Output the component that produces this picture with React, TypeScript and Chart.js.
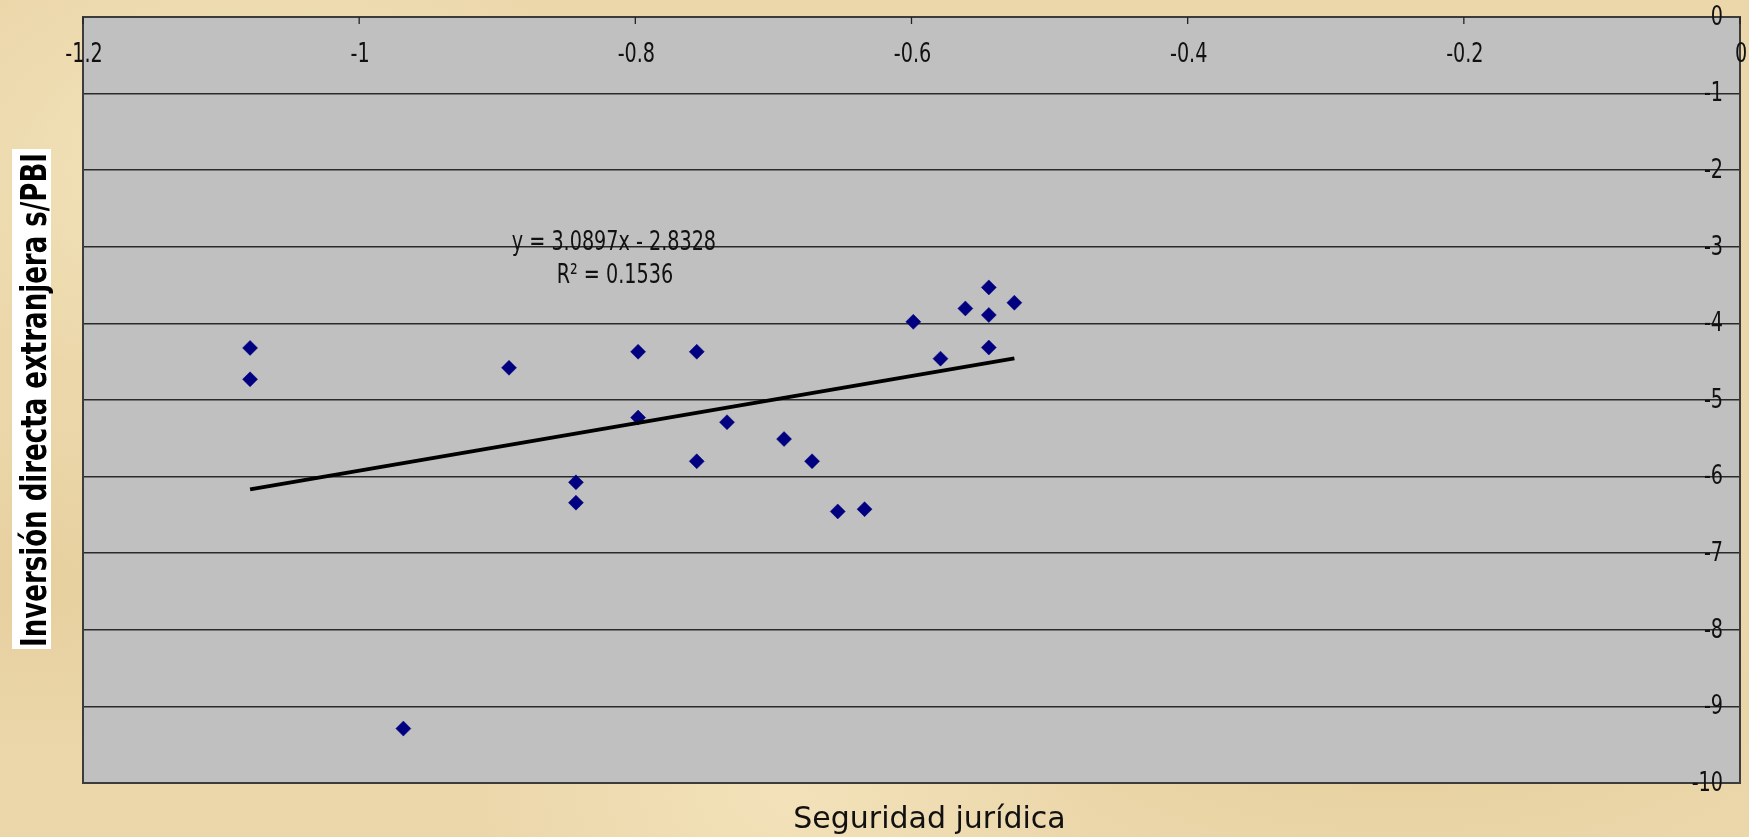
import React, { useEffect, useRef } from "react";
import { Chart, registerables } from "chart.js";

Chart.register(...registerables);

// ---- Data ----
const xValues = [
  -1.079, -1.079, -0.968, -0.8915, -0.843, -0.843, -0.798, -0.798, -0.7555, -0.7555, -0.7336,
  -0.6923, -0.672, -0.6534, -0.634, -0.5987, -0.579, -0.561, -0.544, -0.544, -0.544, -0.5255,
];
const yValues = [
  -4.32, -4.73, -9.29, -4.58, -6.075, -6.34, -4.37, -5.23, -4.37, -5.8, -5.29,
  -5.51, -5.8, -6.455, -6.425, -3.98, -4.46, -3.805, -3.53, -3.89, -4.315, -3.73,
];
const xTickValues = [-1.2, -1, -0.8, -0.6, -0.4, -0.2, 0];
const yTickValues = [0, -1, -2, -3, -4, -5, -6, -7, -8, -9, -10];
const trendSlope = 3.0897;
const trendIntercept = -2.8328;
const rSquared = 0.1536;
const xTitle = "Seguridad jurídica";
const yTitle = "Inversión directa extranjera s/PBI";

const TICK_FONT = "26px 'Liberation Sans Narrow', 'DejaVu Sans Condensed', Roboto, sans-serif";
const NARROW = 0.82;

const fmt = (v: number) => {
  const n = Math.round(v * 10) / 10;
  return (n === 0 ? 0 : n).toString();
};

function narrowText(ctx: CanvasRenderingContext2D, text: string, x: number, y: number) {
  ctx.save();
  ctx.translate(x, y);
  ctx.scale(NARROW, 1);
  ctx.fillText(text, 0, 0);
  ctx.restore();
}

const decorPlugin = {
  id: "decor",
  beforeDraw(chart: any) {
    const { ctx, chartArea: a } = chart;
    ctx.save();
    ctx.fillStyle = "#C0C0C0";
    ctx.fillRect(a.left, a.top, a.right - a.left, a.bottom - a.top);
    ctx.restore();
  },
  afterDraw(chart: any) {
    const { ctx, chartArea: a, scales } = chart;
    const xs = scales.x;
    const ys = scales.y;
    ctx.save();
    // plot border
    ctx.strokeStyle = "#3c3c3c";
    ctx.lineWidth = 2;
    ctx.strokeRect(a.left, a.top, a.right - a.left, a.bottom - a.top);
    // x tick marks (top, pointing inward)
    ctx.lineWidth = 1.3;
    ctx.strokeStyle = "#222";
    xs.ticks.forEach((t: any) => {
      const px = xs.getPixelForValue(t.value);
      ctx.beginPath();
      ctx.moveTo(px, a.top);
      ctx.lineTo(px, a.top + 7);
      ctx.stroke();
    });
    // tick labels
    ctx.fillStyle = "#111";
    ctx.font = TICK_FONT;
    ctx.textBaseline = "middle";
    ctx.textAlign = "center";
    xs.ticks.forEach((t: any) => {
      narrowText(ctx, fmt(t.value), xs.getPixelForValue(t.value) + 1, a.top + 38);
    });
    ctx.textAlign = "right";
    ys.ticks.forEach((t: any) => {
      const py = ys.getPixelForValue(t.value);
      narrowText(ctx, fmt(t.value), a.right - 17, py + 1);
    });
    // trend equation
    ctx.textAlign = "center";
    const ex = xs.getPixelForValue(-0.8155);
    const ey = ys.getPixelForValue(-2.95);
    narrowText(
      ctx,
      `y = ${trendSlope.toFixed(4)}x - ${Math.abs(trendIntercept).toFixed(4)}`,
      ex,
      ey
    );
    narrowText(ctx, `R\u00B2 = ${rSquared.toFixed(4)}`, ex + 1, ey + 33);

    // x title
    ctx.font = "30px 'DejaVu Sans', Verdana, sans-serif";
    ctx.fillStyle = "#111";
    ctx.textAlign = "center";
    ctx.textBaseline = "middle";
    ctx.fillText(xTitle, (a.left + a.right) / 2 + 18, 820);

    // y title (white box, rotated, bold condensed)
    ctx.fillStyle = "#ffffff";
    ctx.fillRect(12, 149, 39, 500);
    ctx.save();
    ctx.translate(46, 400);
    ctx.rotate(-Math.PI / 2);
    ctx.font = "bold 36px 'DejaVu Sans', sans-serif";
    const w = ctx.measureText(yTitle).width;
    ctx.scale(494 / w, 1);
    ctx.fillStyle = "#000";
    ctx.textAlign = "center";
    ctx.textBaseline = "alphabetic";
    ctx.fillText(yTitle, 0, 0);
    ctx.restore();

    ctx.restore();
  },
};

export default function App() {
  const ref = useRef<HTMLCanvasElement | null>(null);

  useEffect(() => {
    if (!ref.current) return;
    const points = xValues.map((x, i) => ({ x, y: yValues[i] }));
    const xMin = Math.min(...xValues);
    const xMax = Math.max(...xValues);
    const trend = [
      { x: xMin, y: trendSlope * xMin + trendIntercept },
      { x: xMax, y: trendSlope * xMax + trendIntercept },
    ];
    const chart = new Chart(ref.current, {
      type: "scatter",
      data: {
        datasets: [
          {
            type: "scatter",
            label: "Datos",
            data: points,
            pointStyle: "rectRot",
            pointRadius: 7.5,
            pointBackgroundColor: "#000080",
            pointBorderColor: "#000080",
            pointBorderWidth: 0.5,
            order: 1,
          } as any,
          {
            type: "line",
            label: "Tendencia",
            data: trend,
            borderColor: "#000000",
            borderWidth: 4,
            pointRadius: 0,
            fill: false,
            tension: 0,
            order: 0,
          } as any,
        ],
      },
      options: {
        responsive: false,
        animation: false,
        devicePixelRatio: 1,
        layout: { padding: { left: 83, right: 9, top: 17, bottom: 54 } },
        plugins: {
          legend: { display: false },
          tooltip: { enabled: false },
          title: { display: false },
        },
        scales: {
          x: {
            type: "linear",
            position: "top",
            min: -1.2,
            max: 0,
            afterBuildTicks: (s: any) => {
              s.ticks = xTickValues.map((v) => ({ value: v }));
            },
            ticks: { display: false },
            grid: { display: false, drawTicks: false },
            border: { display: false },
          },
          y: {
            type: "linear",
            position: "right",
            min: -10,
            max: 0,
            afterBuildTicks: (s: any) => {
              s.ticks = yTickValues.map((v) => ({ value: v }));
            },
            ticks: { display: false },
            grid: { color: "#2a2a2a", lineWidth: 1.4, drawTicks: false },
            border: { display: false },
          },
        },
      },
      plugins: [decorPlugin],
    });
    return () => chart.destroy();
  }, []);

  return (
    <div
      style={{
        position: "fixed",
        left: 0,
        top: 0,
        width: 1749,
        height: 837,
        background:
          "radial-gradient(ellipse 30% 40% at 15% 20%, rgba(250,238,205,0.6), rgba(250,238,205,0) 70%)," +
          "radial-gradient(ellipse 35% 30% at 80% 85%, rgba(222,196,140,0.45), rgba(222,196,140,0) 70%)," +
          "radial-gradient(ellipse 25% 35% at 45% 95%, rgba(248,232,196,0.6), rgba(248,232,196,0) 70%)," +
          "radial-gradient(ellipse 20% 30% at 2% 70%, rgba(226,200,148,0.5), rgba(226,200,148,0) 70%)," +
          "#EBD7AA",
        overflow: "hidden",
      }}
    >
      <canvas ref={ref} width={1749} height={837} style={{ width: 1749, height: 837, display: "block" }} />
    </div>
  );
}
